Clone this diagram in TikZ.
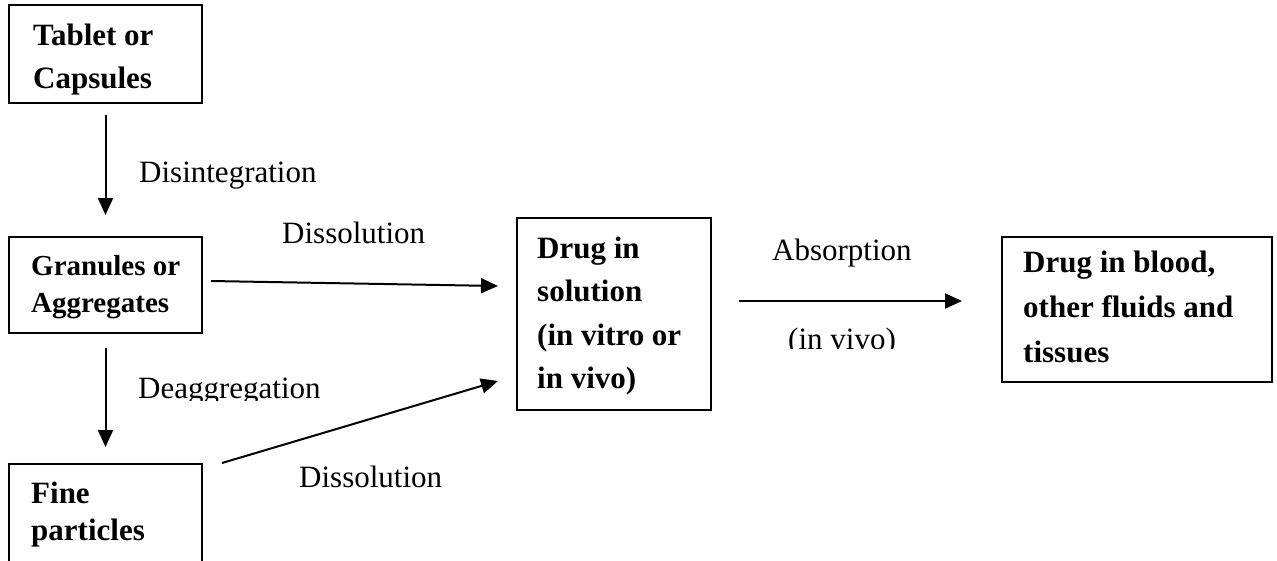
\documentclass[tikz,border=0pt]{standalone}
\usepackage{fontspec}
\setmainfont{Liberation Serif}
\usetikzlibrary{arrows.meta}
\begin{document}
\begin{tikzpicture}[x=1pt,y=-1pt,
  box/.style={draw, line width=2pt, inner sep=0pt, outer sep=0pt},
  lab/.style={anchor=base west, inner sep=0pt, font=\fontsize{31}{37}\selectfont},
  blab/.style={anchor=base west, inner sep=0pt, font=\fontsize{31}{37}\selectfont\bfseries},
  sblab/.style={anchor=base west, inner sep=0pt, font=\fontsize{29}{35}\selectfont\bfseries},
  arr/.style={line width=2pt, -{Triangle[length=17pt,width=15pt]}}]
\clip (0,0) rectangle (1277,560);
\fill[white] (0,0) rectangle (1277,560);
% boxes
\node[box, minimum width=193, minimum height=98] (tablet) at (105.5,54) {};
\node[box, minimum width=193, minimum height=96] (gran) at (105.5,285) {};
\node[box, minimum width=193, minimum height=136] (fine) at (105.5,532) {};
\node[box, minimum width=194, minimum height=192] (sol) at (614,314) {};
\node[box, minimum width=270, minimum height=145] (blood) at (1137,309.5) {};
% box texts
\node[blab] (t1) at (33,45) {Tablet or};
\node[blab] (t2) at (33,88) {Capsules};
\node[sblab] (g1) at (31,275) {Granules or};
\node[sblab] (g2) at (31,312) {Aggregates};
\node[blab] (f1) at (31,503) {Fine};
\node[blab] (f2) at (31,540) {particles};
\node[blab] (s1) at (537,258) {Drug in};
\node[blab] (s2) at (537,301) {solution};
\node[blab] (s3) at (537,345) {(in vitro or};
\node[blab] (s4) at (537,388) {in vivo)};
\node[blab] (b1) at (1023,272) {Drug in blood,};
\node[blab] (b2) at (1023,317) {other fluids and};
\node[blab] (b3) at (1023,362) {tissues};
% connectors
\draw[arr] ([yshift=-12pt]tablet.south) -- ([yshift=22pt]gran.north);
\draw[arr] ([yshift=-15pt]gran.south) -- ([yshift=17pt]fine.north);
\draw[arr] ([xshift=9pt,yshift=4pt]gran.east) -- ([xshift=-19pt,yshift=28pt]sol.west);
\draw[arr] ([xshift=20pt,yshift=1pt]fine.north east) -- ([xshift=-19pt,yshift=-67pt]sol.west);
\draw[arr] ([xshift=28pt,yshift=13pt]sol.east) -- ([xshift=-40pt,yshift=8.5pt]blood.west);
% connector labels
\node[lab] (l1) at (139,182) {Disintegration};
\node[lab] (l2) at (282,243) {Dissolution};
\node[lab] (l4) at (299,487) {Dissolution};
\node[lab] (l5) at (772,260) {Absorption};
\begin{scope}
\clip (0,0) rectangle (1277,400);
\node[lab] (l3) at (138,398) {Deaggregation};
\end{scope}
\begin{scope}
\clip (0,0) rectangle (1277,348);
\node[lab] (l6) at (788,349) {(in vivo)};
\end{scope}
\end{tikzpicture}
\end{document}
